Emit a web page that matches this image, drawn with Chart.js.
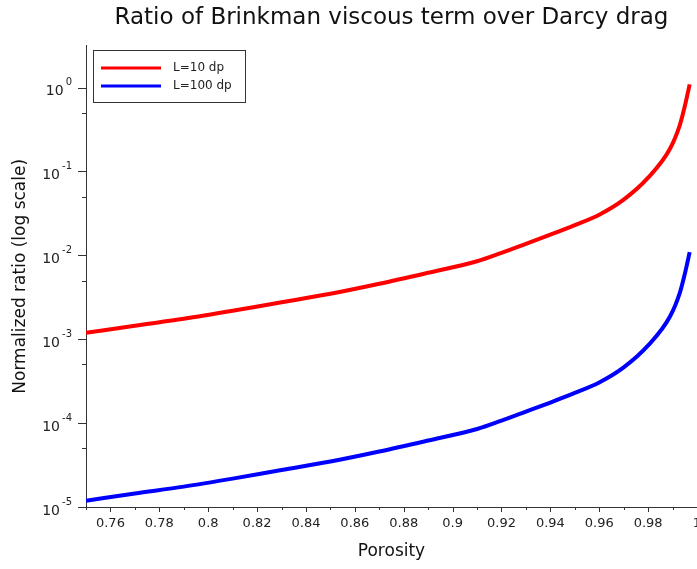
<!DOCTYPE html>
<html lang="en">
  <head>
    <meta charset="UTF-8" />
    <title>Brinkman / Darcy ratio</title>
    <script src="https://cdn.jsdelivr.net/npm/chart.js"></script>
    <style>
      body {
        margin: 0;
        background: #fff;
      }
      canvas {
        display: block;
      }
    </style>
  </head>
  <body>
    <canvas id="ratioChart" width="697" height="569"></canvas>

    <script>
      // values
      const porosity = [
        0.75, 0.77, 0.79, 0.81, 0.83, 0.85, 0.87, 0.89, 0.91, 0.92, 0.93, 0.94,
        0.95, 0.96, 0.97, 0.98, 0.989, 0.993, 0.995, 0.997,
      ];
      const ratioL10 = [
        1.19e-3, 1.45e-3, 1.75e-3, 2.18e-3, 2.76e-3, 3.48e-3, 4.58e-3, 6.2e-3,
        8.5e-3, 1.07e-2, 1.37e-2, 1.76e-2, 2.29e-2, 3.05e-2, 4.61e-2, 8.43e-2,
        0.188, 0.36, 0.598, 1.09,
      ];
      const ratioL100 = [
        1.19e-5, 1.45e-5, 1.75e-5, 2.18e-5, 2.76e-5, 3.48e-5, 4.58e-5, 6.2e-5,
        8.5e-5, 1.07e-4, 1.37e-4, 1.76e-4, 2.29e-4, 3.05e-4, 4.61e-4, 8.43e-4,
        1.88e-3, 3.6e-3, 5.98e-3, 1.09e-2,
      ];
      const seriesNames = ["L=10 dp", "L=100 dp"];
      const seriesColors = ["#ff0000", "#0000ff"];
      const yMajorTicks = [1e-5, 1e-4, 1e-3, 1e-2, 1e-1, 1e0];
      const yMinorTicks = [5e-5, 5e-4, 5e-3, 5e-2, 5e-1];
      const yExponents = ["-5", "-4", "-3", "-2", "-1", "0"];

      const axisColor = "#333";
      const font = "DejaVu Sans";

      // ticks, superscript labels and boxed legend
      const decorations = {
        id: "decorations",
        afterDraw(chart) {
          const ctx = chart.ctx;
          const area = chart.chartArea;
          const xs = chart.scales.x;
          const ys = chart.scales.y;
          ctx.save();
          ctx.strokeStyle = axisColor;
          ctx.lineWidth = 1;

          // x ticks: every 0.01, longer on labelled ones
          for (let i = 75; i <= 100; i++) {
            const px = Math.round(xs.getPixelForValue(i / 100)) + 0.5;
            const len = i % 2 === 0 ? 5 : 3;
            ctx.beginPath();
            ctx.moveTo(px, area.bottom);
            ctx.lineTo(px, area.bottom + len);
            ctx.stroke();
          }

          // y ticks
          yMajorTicks.forEach((v) => {
            const py = Math.round(ys.getPixelForValue(v)) + 0.5;
            ctx.beginPath();
            ctx.moveTo(area.left - 8, py);
            ctx.lineTo(area.left, py);
            ctx.stroke();
          });
          yMinorTicks.forEach((v) => {
            const py = Math.round(ys.getPixelForValue(v)) + 0.5;
            ctx.beginPath();
            ctx.moveTo(area.left - 4, py);
            ctx.lineTo(area.left, py);
            ctx.stroke();
          });

          // y labels as 10^n
          ctx.fillStyle = "#222";
          ctx.textBaseline = "middle";
          yMajorTicks.forEach((v, i) => {
            const py = ys.getPixelForValue(v);
            const right = area.left - 14;
            ctx.font = "10px " + font;
            ctx.textAlign = "right";
            const expW = ctx.measureText(yExponents[i]).width;
            ctx.fillText(yExponents[i], right, py - 5);
            ctx.font = "14px " + font;
            ctx.fillText("10", right - expW - 2, py + 4);
          });

          // legend
          const lx = 93.5, ly = 50.5, lw = 152, lh = 52;
          ctx.fillStyle = "#fff";
          ctx.fillRect(lx, ly, lw, lh);
          ctx.strokeStyle = axisColor;
          ctx.strokeRect(lx, ly, lw, lh);
          ctx.font = "12px " + font;
          ctx.textAlign = "left";
          seriesNames.forEach((name, i) => {
            const y = 68 + i * 18;
            ctx.strokeStyle = seriesColors[i];
            ctx.lineWidth = 3;
            ctx.beginPath();
            ctx.moveTo(101, y);
            ctx.lineTo(161, y);
            ctx.stroke();
            ctx.fillStyle = "#222";
            ctx.fillText(name, 173, y);
          });
          ctx.restore();
        },
      };

      new Chart(document.getElementById("ratioChart").getContext("2d"), {
        type: "line",
        data: {
          datasets: [ratioL10, ratioL100].map((vals, k) => ({
            label: seriesNames[k],
            data: porosity.map((p, i) => ({ x: p, y: vals[i] })),
            borderColor: seriesColors[k],
            backgroundColor: seriesColors[k],
            borderWidth: 4,
            pointRadius: 0,
            fill: false,
            cubicInterpolationMode: "monotone",
          })),
        },
        options: {
          responsive: false,
          animation: false,
          layout: { padding: 0 },
          plugins: {
            legend: { display: false },
            tooltip: { enabled: false },
            title: {
              display: true,
              fullSize: false,
              text: "Ratio of Brinkman viscous term over Darcy drag",
              color: "#111",
              font: { family: font, size: 23, weight: "normal" },
              padding: { top: 4, bottom: 14 },
              align: "center",
            },
          },
          scales: {
            x: {
              type: "linear",
              min: 0.75,
              max: 1,
              grid: { display: false, drawTicks: false },
              border: { display: true, color: axisColor },
              ticks: {
                stepSize: 0.01,
                autoSkip: false,
                maxRotation: 0,
                padding: 9,
                color: "#222",
                font: { family: font, size: 13 },
                callback: (v) => {
                  const h = Math.round(v * 100);
                  return h % 2 === 0 ? String(h / 100) : "";
                },
              },
              title: {
                display: true,
                text: "Porosity",
                color: "#111",
                font: { family: font, size: 17 },
                padding: { top: 0, bottom: 7 },
              },
              afterFit: (s) => {
                s.height = 62;
                s.paddingLeft = 0;
                s.paddingRight = 0;
              },
            },
            y: {
              type: "logarithmic",
              min: 1e-5,
              max: 3.162,
              grid: { display: false, drawTicks: false },
              border: { display: true, color: axisColor },
              ticks: { display: false },
              title: {
                display: true,
                text: "Normalized ratio (log scale)",
                color: "#111",
                font: { family: font, size: 17 },
                padding: { top: 10, bottom: 0 },
              },
              afterFit: (s) => {
                s.width = 86;
              },
            },
          },
        },
        plugins: [decorations],
      });
    </script>
  </body>
</html>
